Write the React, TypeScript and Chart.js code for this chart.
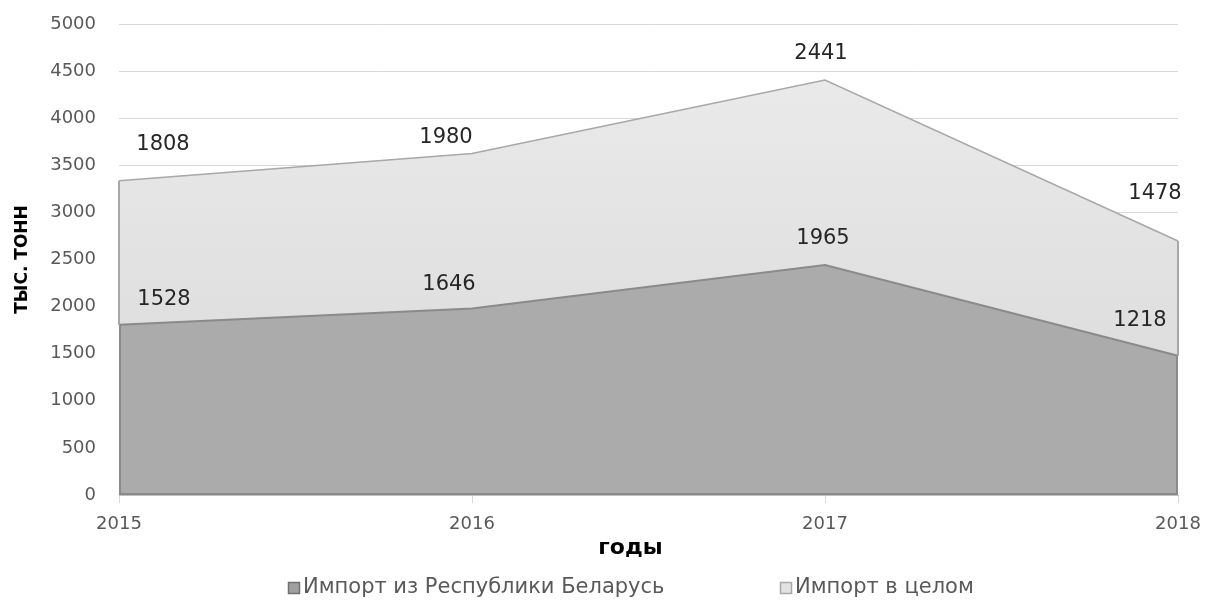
import React, { useEffect, useRef } from "react";
import { Chart, registerables } from "chart.js";

Chart.register(...registerables);

// ---- data ----
const years = ["2015", "2016", "2017", "2018"];
const belarusSeries = [1808, 1980, 2441, 1478]; // dark (lower) band
const totalSeries = [1528, 1646, 1965, 1218]; // light (stacked) band
const seriesNames = ["Импорт из Республики Беларусь", "Импорт в целом"];
const yMin = 0;
const yMax = 5000;
const yStep = 500;
const xTitle = "годы";
const yTitle = "ТЫС. ТОНН";

// ---- styles ----
const FONT = '"DejaVu Sans", "Open Sans", sans-serif';
const darkFill = "#ababab";
const darkLine = "#8a8a8a";
const lightLine = "#a8a8a8";
// label offsets (px) relative to anchor points, as dragged in the original
const offTop: [number, number][] = [[44, -36], [-26, -16], [-4, -26], [-23, -47]];
const offMid: [number, number][] = [[45, -25], [-23, -24], [-2, -27], [-38, -35]];
const legendX = [288, 780];
const legendY = 588;
const xTitleShift = -18;
const xTitleY = 548;

const edgesAndLabels = {
  id: "edgesAndLabels",
  afterDatasetsDraw(chart: any) {
    const ctx = chart.ctx;
    const m0 = chart.getDatasetMeta(0);
    const m1 = chart.getDatasetMeta(1);
    const base = chart.scales.y.getPixelForValue(0);
    const n = m0.data.length;
    ctx.save();
    ctx.lineWidth = 2;
    ctx.strokeStyle = lightLine;
    [0, n - 1].forEach((i) => {
      ctx.beginPath();
      ctx.moveTo(m1.data[i].x, m1.data[i].y);
      ctx.lineTo(m0.data[i].x, m0.data[i].y);
      ctx.stroke();
    });
    ctx.strokeStyle = darkLine;
    [0, n - 1].forEach((i) => {
      ctx.beginPath();
      ctx.moveTo(m0.data[i].x + (i === 0 ? 1 : -1), m0.data[i].y);
      ctx.lineTo(m0.data[i].x + (i === 0 ? 1 : -1), base);
      ctx.stroke();
    });
    ctx.beginPath();
    ctx.moveTo(m0.data[0].x, base - 1);
    ctx.lineTo(m0.data[n - 1].x, base - 1);
    ctx.stroke();
    ctx.font = `21px ${FONT}`;
    ctx.fillStyle = "#262626";
    ctx.textAlign = "center";
    ctx.textBaseline = "middle";
    chart.data.datasets[0].data.forEach((v: number, i: number) => {
      const p = m1.data[i];
      ctx.fillText(String(v), p.x + offTop[i][0], p.y + offTop[i][1]);
    });
    chart.data.datasets[1].data.forEach((v: number, i: number) => {
      const p = m0.data[i];
      ctx.fillText(String(v), p.x + offMid[i][0], p.y + offMid[i][1]);
    });
    ctx.restore();
  },
  afterDraw(chart: any) {
    const ctx = chart.ctx;
    const area = chart.chartArea;
    ctx.save();
    // x axis title
    ctx.font = `bold 22px ${FONT}`;
    ctx.fillStyle = "#000";
    ctx.textAlign = "center";
    ctx.textBaseline = "middle";
    ctx.fillText(xTitle, (area.left + area.right) / 2 + xTitleShift, xTitleY);
    // legend
    ctx.font = `21px ${FONT}`;
    ctx.textAlign = "left";
    chart.data.datasets.forEach((ds: any, i: number) => {
      const x = legendX[i];
      ctx.fillStyle = ds.legendFill;
      ctx.strokeStyle = ds.legendStroke;
      ctx.lineWidth = 1.5;
      ctx.fillRect(x, legendY - 6, 12, 12);
      ctx.strokeRect(x + 0.5, legendY - 5.5, 11, 11);
      ctx.fillStyle = "#595959";
      ctx.fillText(ds.label, x + 15, legendY);
    });
    ctx.restore();
  },
};

export default function App() {
  const ref = useRef<HTMLCanvasElement>(null);
  useEffect(() => {
    document.body.style.margin = "0";
    const canvas = ref.current!;
    const lightGradient = (c: any) => {
      const { chart } = c;
      const area = chart.chartArea;
      if (!area) return "#e2e2e2";
      const g = chart.ctx.createLinearGradient(0, area.top, 0, area.bottom);
      g.addColorStop(0, "#ececec");
      g.addColorStop(1, "#d8d8d8");
      return g;
    };
    const chart = new Chart(canvas, {
      type: "line",
      data: {
        labels: years,
        datasets: [
          {
            label: seriesNames[0],
            data: belarusSeries,
            fill: "origin",
            backgroundColor: darkFill,
            borderColor: darkLine,
            borderWidth: 2,
            pointRadius: 0,
            tension: 0,
            legendFill: "#a0a0a0",
            legendStroke: "#707070",
          } as any,
          {
            label: seriesNames[1],
            data: totalSeries,
            fill: "-1",
            backgroundColor: lightGradient,
            borderColor: lightLine,
            borderWidth: 1.5,
            pointRadius: 0,
            tension: 0,
            legendFill: "#e2e2e2",
            legendStroke: "#a8a8a8",
          } as any,
        ],
      },
      options: {
        animation: false,
        responsive: false,
        devicePixelRatio: 1,
        layout: { padding: { top: 24, right: 27, bottom: 40, left: 0 } },
        plugins: { legend: { display: false }, tooltip: { enabled: false } },
        scales: {
          x: {
            type: "category",
            offset: false,
            grid: { display: true, drawOnChartArea: false, drawTicks: true, tickLength: 8, color: "#d9d9d9" },
            border: { display: true, color: "#bfbfbf", width: 1 },
            ticks: { font: { family: FONT, size: 18 }, color: "#595959", padding: 11, maxRotation: 0, autoSkip: false },
            title: { display: false },
            afterFit: (s: any) => {
              s.height = 65;
              s.paddingLeft = 0;
              s.paddingRight = 0;
            },
          },
          y: {
            stacked: true,
            min: yMin,
            max: yMax,
            ticks: {
              stepSize: yStep,
              font: { family: FONT, size: 18 },
              color: "#595959",
              padding: 23,
              callback: (v: any) => String(v),
            },
            grid: { color: "#d9d9d9", drawTicks: false },
            border: { display: false },
            title: {
              display: true,
              text: yTitle,
              font: { family: FONT, size: 17, weight: "bold" },
              color: "#000",
              padding: { top: 12, bottom: 0 },
            },
            afterFit: (s: any) => {
              s.width = 119;
              s.paddingTop = 0;
              s.paddingBottom = 0;
            },
          },
        },
      } as any,
      plugins: [edgesAndLabels],
    });
    return () => chart.destroy();
  }, []);
  return <canvas ref={ref} width={1205} height={600} style={{ display: "block" }} />;
}
